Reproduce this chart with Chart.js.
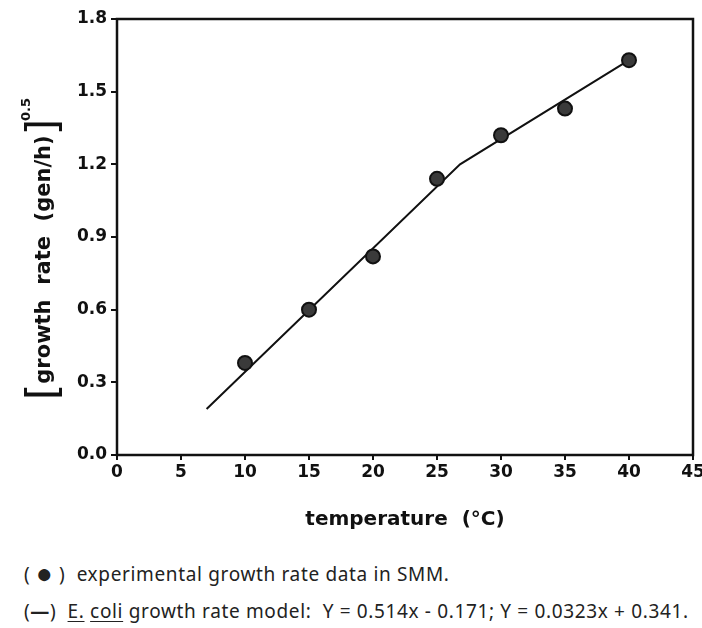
<!DOCTYPE html>
<html>
<head>
<meta charset="utf-8">
<script src="https://cdn.jsdelivr.net/npm/chart.js@4"></script>
<style>
  body { margin: 0; background: #fff; width: 702px; height: 628px; overflow: hidden; position: relative; }
  #chart { position: absolute; left: 0; top: 0; }
  .note { position: absolute; left: 24px; font-family: "Noto Sans", sans-serif; font-size: 19px; letter-spacing: 0.65px; color: #222; white-space: pre; line-height: 24px; }
  .note u { text-underline-offset: 3px; }
  .dot { font-size: 28px; line-height: 0; vertical-align: -2px; }
</style>
</head>
<body>
<canvas id="chart" width="702" height="548"></canvas>
<div class="note" style="top:562px">( <span class="dot">●</span> )  experimental growth rate data in SMM.</div>
<div class="note" style="top:599px">(<b>—</b>)  <u>E.</u> <u>coli</u> growth rate model:  Y = 0.514x - 0.171; Y = 0.0323x + 0.341.</div>

<script>
const temps = [10, 15, 20, 25, 30, 35, 40];
const rates = [0.38, 0.60, 0.82, 1.14, 1.32, 1.43, 1.63];

const modelTemps = [7, 26.8, 40];
const modelRates = [0.19, 1.20, 1.63];

const xTicks = { min: 0, max: 45, step: 5 };
const yTicks = { min: 0, max: 1.8, step: 0.3 };

const tickFont = { family: "DejaVu Sans", size: 17, weight: "bold" };

// frame round the plot and the two axis titles
const framePlugin = {
  id: "frame",
  afterDraw(chart) {
    const { ctx, chartArea: a } = chart;
    ctx.save();
    ctx.strokeStyle = "#111";
    ctx.lineWidth = 2.5;
    ctx.strokeRect(a.left, a.top, a.right - a.left, a.bottom - a.top);

    ctx.fillStyle = "#111";
    ctx.font = "bold 20px 'DejaVu Sans'";
    ctx.textAlign = "center";
    ctx.textBaseline = "middle";
    ctx.fillText("temperature  (\u00B0C)", (a.left + a.right) / 2, a.bottom + 65);

    // rotated y title: [growth rate (gen/h)]^0.5
    ctx.translate(44, 248);
    ctx.rotate(-Math.PI / 2);
    const main = "growth  rate  (gen/h)";
    ctx.font = "bold 21px 'DejaVu Sans'";
    const wMain = ctx.measureText(main).width;
    ctx.font = "42px 'DejaVu Sans'";
    const wBr = ctx.measureText("[").width;
    ctx.font = "bold 13px 'DejaVu Sans'";
    const wSup = ctx.measureText("0.5").width;
    const total = wBr * 2 + wMain + wSup;
    let x = -total / 2;
    ctx.textAlign = "left";
    ctx.textBaseline = "alphabetic";
    ctx.font = "42px 'DejaVu Sans'";
    ctx.fillText("[", x, 13);
    x += wBr;
    ctx.font = "bold 21px 'DejaVu Sans'";
    ctx.fillText(main, x, 6);
    x += wMain;
    ctx.font = "42px 'DejaVu Sans'";
    ctx.fillText("]", x, 13);
    x += wBr;
    ctx.font = "bold 13px 'DejaVu Sans'";
    ctx.fillText("0.5", x - 2, -14);
    ctx.restore();
  }
};

const ctx = document.getElementById("chart").getContext("2d");

new Chart(ctx, {
  type: "scatter",
  data: {
    datasets: [
      {
        label: "E. coli growth rate model",
        data: modelTemps.map((t, i) => ({ x: t, y: modelRates[i] })),
        showLine: true,
        borderColor: "#111",
        borderWidth: 2,
        pointRadius: 0,
        fill: false,
        order: 2
      },
      {
        label: "experimental growth rate data in SMM",
        data: temps.map((t, i) => ({ x: t, y: rates[i] })),
        backgroundColor: "#3a3a3a",
        borderColor: "#111",
        borderWidth: 2,
        pointRadius: 7,
        order: 1
      }
    ]
  },
  options: {
    responsive: false,
    animation: false,
    layout: { padding: { left: 0, top: 19, right: 0, bottom: 0 } },
    plugins: {
      legend: { display: false },
      tooltip: { enabled: false }
    },
    scales: {
      x: {
        type: "linear",
        min: xTicks.min,
        max: xTicks.max,
        afterFit: (s) => { s.height = 93; s.paddingRight = 8; s.paddingLeft = 0; },
        border: { display: false },
        grid: { drawOnChartArea: false, color: "#111", lineWidth: 2, tickLength: 5 },
        ticks: { stepSize: xTicks.step, color: "#111", font: tickFont, padding: 2, maxRotation: 0 }
      },
      y: {
        min: yTicks.min,
        max: yTicks.max,
        afterFit: (s) => { s.width = 117; },
        border: { display: false },
        grid: { drawOnChartArea: false, color: "#111", lineWidth: 2, tickLength: 6 },
        ticks: {
          stepSize: yTicks.step,
          color: "#111",
          font: tickFont,
          padding: 4,
          callback: (v) => v.toFixed(1)
        }
      }
    }
  },
  plugins: [framePlugin]
});
</script>
</body>
</html>
